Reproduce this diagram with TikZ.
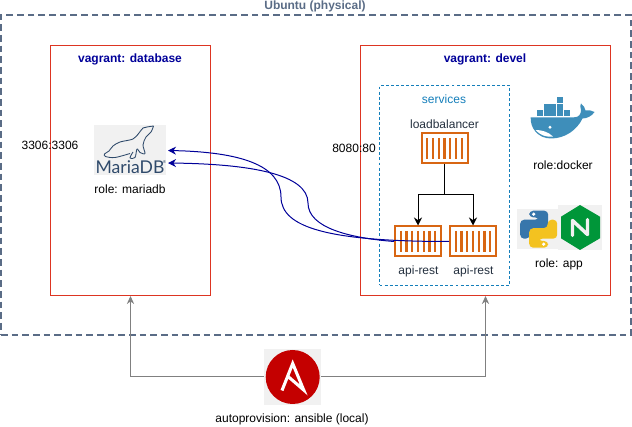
\documentclass[tikz,border=0pt]{standalone}
\usepackage{fontspec}
\setmainfont{Liberation Sans}
\newfontfamily\logofont{Lato}
\usepackage{tikz}
\usetikzlibrary{arrows.meta, positioning}
\usetikzlibrary{calc}
\usepackage{xcolor}
\definecolor{hostcol}{HTML}{5A6C86}
\definecolor{vmcol}{HTML}{DD3522}
\definecolor{titlecol}{HTML}{000099}
\definecolor{svccol}{HTML}{147EBA}
\definecolor{darktext}{HTML}{232F3E}
\definecolor{ctrcol}{HTML}{D86613}
\definecolor{logobg}{HTML}{F1F1F1}
\definecolor{sealcol}{HTML}{2F4A6B}
\definecolor{whalecol}{HTML}{3E8EBA}
\definecolor{pyblue}{HTML}{3776AB}
\definecolor{pyyellow}{HTML}{F3C220}
\definecolor{nginxcol}{HTML}{009639}
\definecolor{ansiblecol}{HTML}{C40000}
\definecolor{provcol}{HTML}{808080}
\tikzset{
	lbl/.style={inner sep=0pt, font=\fontsize{9}{11}\selectfont},
	vmtitle/.style={lbl, font=\fontsize{9}{11}\selectfont\bfseries, text=titlecol},
	hostbox/.style={draw=hostcol, dash pattern=on 5pt off 3pt, line width=1.5pt, minimum width=472.5pt, minimum height=240pt, inner sep=0pt},
	vmbox/.style={draw=vmcol, line width=.8pt, minimum height=187.5pt, inner sep=0pt},
	svcbox/.style={draw=svccol, dash pattern=on 2.2pt off 1.6pt, line width=.75pt, minimum width=97.5pt, minimum height=150pt, inner sep=0pt},
	ctrbox/.style={draw=ctrcol, fill=white, line width=1.5pt, minimum width=34.5pt, minimum height=22.5pt, inner sep=0pt,
		path picture={\foreach \k in {-3,...,3} \draw[ctrcol, line width=1.7pt] ($(path picture bounding box.center)+(\k*5.75,-10.5)$) -- ++(0,21);}},
	logobox/.style={fill=logobg, inner sep=0pt},
	bus/.style={draw=black, line width=.75pt, -{Stealth[length=6pt, width=6pt]}},
	dbconn/.style={draw=titlecol, line width=.75pt, -{Stealth[length=6pt, width=6pt]}},
	prov/.style={draw=provcol, line width=.75pt, -{Stealth[length=6pt, width=5.5pt]}},
}
\begin{document}
\begin{tikzpicture}[x=.75pt, y=-.75pt]
		\useasboundingbox (0,0) rectangle (632,427);
		\draw (316,175) node[hostbox] (ubuntu) {}
		(130.5,170.5) node[vmbox, minimum width=120pt] (database) {}
		(485.5,170.5) node[vmbox, minimum width=187.5pt] (devel) {}
		(444.5,185.5) node[svcbox] (services) {}
		(444.5,148.5) node[ctrbox] (lb) {}
		(418,241.5) node[ctrbox] (api1) {}
		(473,241.5) node[ctrbox] (api2) {}
		(130,150) node[logobox, minimum width=54.5pt, minimum height=37.5pt] (mariadb) {}
		(537.7,229) node[logobox, minimum width=31pt, minimum height=30pt] (python) {}
		(580,227.5) node[logobox, minimum width=32.5pt, minimum height=33.75pt] (nginx) {}
		(292.5,377) node[logobox, minimum width=42.75pt, minimum height=42pt] (ansible) {};

		\draw (315,6) node[lbl, font=\fontsize{9}{11}\selectfont\bfseries, text=hostcol] (ubuntulbl) {Ubuntu (physical)}
		(130,59) node[vmtitle] (dbtitle) {vagrant: database}
		(485,59) node[vmtitle] (develtitle) {vagrant: devel}
		(444,99) node[lbl, text=svccol] (svctitle) {services}
		(444.5,124) node[lbl, text=darktext] (lblb) {loadbalancer}
		(418.5,271) node[lbl, text=darktext] (lbapi1) {api-rest}
		(473.5,271) node[lbl, text=darktext] (lbapi2) {api-rest}
		(563,165) node[lbl] (lbdocker) {role:docker}
		(559,264) node[lbl] (lbapp) {role: app}
		(130,189) node[lbl] (lbmaria) {role: mariadb}
		(50,145) node[lbl] (port1) {3306:3306}
		(354,148) node[lbl] (port2) {8080:80}
		(292,419) node[lbl] (lbansible) {autoprovision: ansible (local)}
		(130,167.5) node[lbl, text=sealcol, font=\logofont\fontsize{13.2}{14}\selectfont] (marianame) {MariaDB}
		(164.5,162.5) node[lbl, text=sealcol, font=\logofont\fontsize{3}{3}\selectfont] (mariamark) {®};

		% seal
		\draw[sealcol, line width=.65pt, line join=round] plot[smooth, tension=.55] coordinates {(153.5,126) (147,127) (143,128) (139,133) (133,139) (120,142) (113,146) (109,151) (104.5,154) (105.5,156.5) (115,157.5) (130,153.5)};
		\draw[sealcol, line width=.65pt, line join=round] plot[smooth, tension=.55] coordinates {(153.5,126) (151,132) (146,137) (143,145) (145,153.5) (140,152.5) (137,149) (135,157.5) (130,158) (133,152)};

		% whale
		\foreach \bx/\by in {557/96.7, 543.7/103.7, 550.3/103.7, 557/103.7, 537/110.4, 543.7/110.4, 550.3/110.4, 557/110.4, 563.7/110.4}
			\fill[whalecol] (\bx,\by) rectangle ++(6,6);
		\fill[whalecol] (530.7,117.3) -- (574,117.3) .. controls (579,117.5) and (581,114) .. (581,110) .. controls (580,107) and (580,105) .. (581,103.5) .. controls (583.5,105) and (585,108) .. (585.5,110.5) .. controls (589,110) and (592,110.5) .. (594.5,112) .. controls (592,116) and (587,118.5) .. (582.5,118.5) .. controls (577,130) and (565,138.5) .. (551,138.5) .. controls (538,138.5) and (530,128) .. (530.7,117.3) -- cycle;
		\fill[white] (535.5,130) .. controls (541,130) and (548,131.5) .. (553,136.5) .. controls (546,137.5) and (540,135) .. (535.5,130) -- cycle;
		\fill[white] (550,127.3) circle (1.6);

		% python
		\foreach \col/\ang in {pyblue/0, pyyellow/180} {
			\begin{scope}[shift={(538.7,229.2)}, rotate=\ang]
				\fill[\col, rounded corners=3pt] (-9.5,-18.5) -- (9.5,-18.5) -- (9.5,1) -- (-9,1) -- (-9,9.5) -- (-18.5,9.5) -- (-18.5,-9.5) -- (.5,-9.5) -- (.5,-11.8) -- (-9.5,-11.8) -- cycle;
				\fill[white] (-5,-15) circle (1.8);
			\end{scope}
		}

		% nginx
		\fill[nginxcol] (580,205) -- (600,216.7) -- (600,238.3) -- (580,250) -- (561,238.3) -- (561,216.7) -- cycle;
		\draw[logobg, line width=2.6pt, line join=round, line cap=round] (572.5,235.5) -- (572.5,220.5) -- (587.5,234.5) -- (587.5,219.5);

		% ansible
		\fill[ansiblecol] (292.7,377) circle (27);
		\draw[white, line width=2.3pt, line join=miter] (282,390.5) -- (292.7,363.5) -- (303.7,390) -- (287.5,376);

		\coordinate (split) at (444.5,195);
		\coordinate (dbtop) at (168,150.5);
		\coordinate (dblow) at (168,163);

		\draw[draw=black, line width=.75pt] (lb) -- (split);
		\draw[bus] (split) -| (api1);
		\draw[bus] (split) -| (api2);
		\draw[dbconn] (api2.west) .. controls (330,241.5) and (281,228) .. (281,197) .. controls (281,165) and (240,152) .. (dbtop);
		\draw[dbconn] (api1.west) .. controls (350,238) and (308,228) .. (308,203) .. controls (308,174) and (250,164) .. (dblow);
		\draw[prov] (ansible) -| (database);
		\draw[prov] (ansible) -| (devel);
	\end{tikzpicture}
\end{document}
